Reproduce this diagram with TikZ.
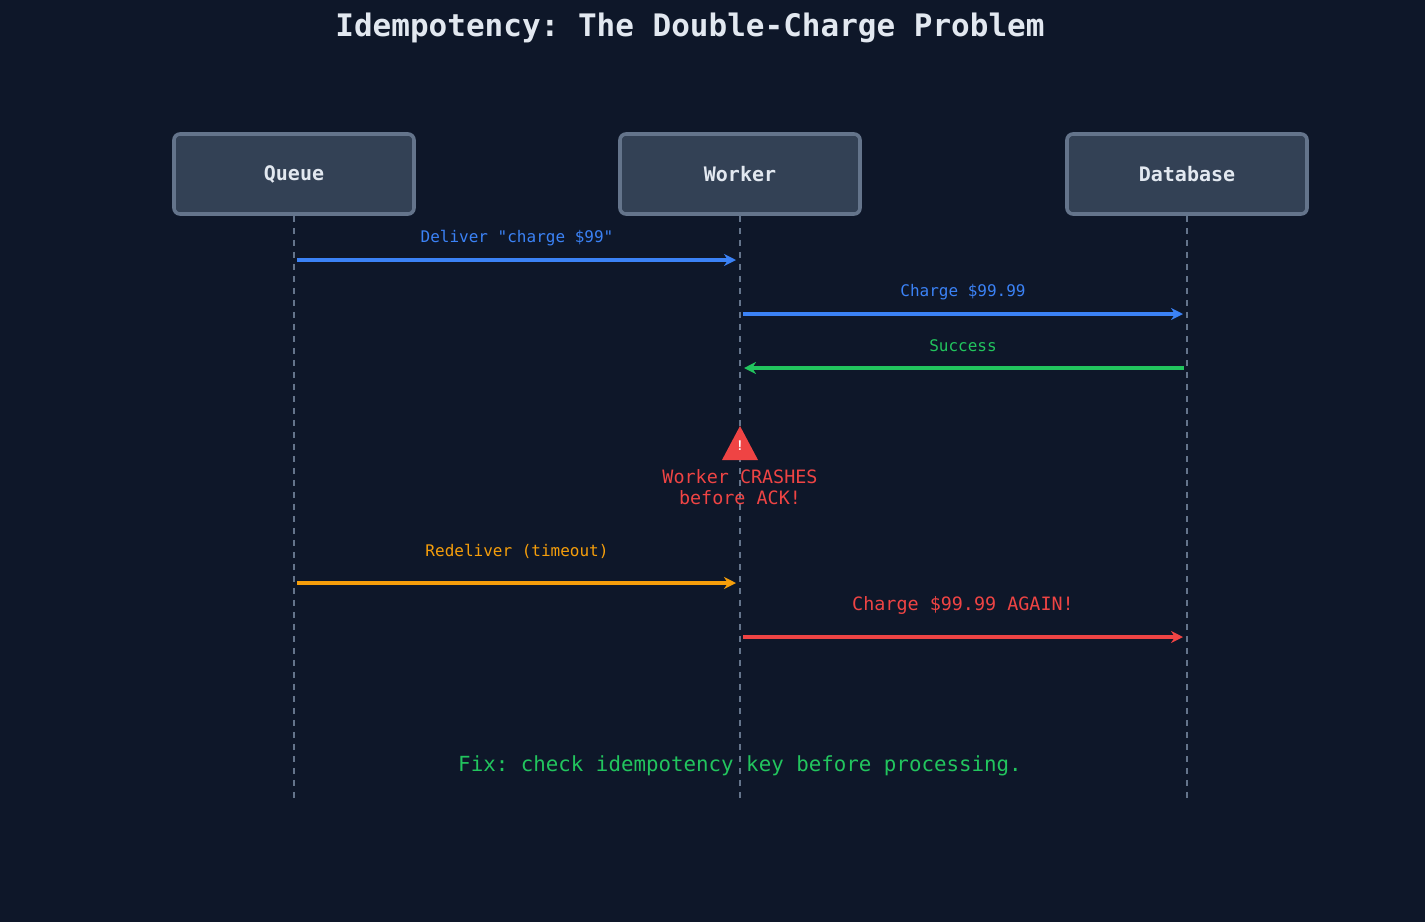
\documentclass[tikz,border=0pt]{standalone}
\usepackage{fontspec}
\setmonofont{DejaVu Sans Mono}
\usetikzlibrary{arrows.meta}
\definecolor{bg}{HTML}{0E1729}
\definecolor{boxfill}{HTML}{334155}
\definecolor{boxline}{HTML}{64748B}
\definecolor{txt}{HTML}{E2E8F0}
\definecolor{cblue}{HTML}{3B82F6}
\definecolor{cgreen}{HTML}{22C55E}
\definecolor{cred}{HTML}{EF4444}
\definecolor{corange}{HTML}{F59E0B}
\tikzset{
  actor/.style={draw=boxline, line width=1.8pt, fill=boxfill, rounded corners=3pt,
    minimum width=120pt, minimum height=40pt, text=txt, font=\ttfamily\bfseries\fontsize{10}{12}\selectfont},
  life/.style={boxline, dashed, line width=0.6pt},
  msg/.style={line width=1.7pt, -{Stealth[length=6pt,width=6pt]}},
  lbl/.style={font=\ttfamily\fontsize{8}{10}\selectfont}
}
\begin{document}
\begin{tikzpicture}[x=0.5pt,y=-0.5pt]
\fill[bg] (0,0) rectangle (1425,922);
\useasboundingbox (0,0) rectangle (1425,922);
\node[text=txt, font=\ttfamily\bfseries\fontsize{15.5}{18}\selectfont] (title) at (690,28) {Idempotency: The Double-Charge Problem};
% actors
\node[actor] (queue) at (294,174) {Queue};
\node[actor] (worker) at (740,174) {Worker};
\node[actor] (db) at (1187,174) {Database};
\coordinate (qend) at (294,798);
\coordinate (wend) at (740,798);
\coordinate (dend) at (1187,798);
\draw[life] (queue.south) -- (qend);
\draw[life] (worker.south) -- (wend);
\draw[life] (db.south) -- (dend);
% messages
\coordinate (q1) at (297,260); \coordinate (w1) at (736,260);
\draw[msg, cblue] (q1) -- (w1);
\node[lbl, text=cblue] (l1) at (517,238) {Deliver "charge \$99"};
\coordinate (w2) at (743,314); \coordinate (d2) at (1183,314);
\draw[msg, cblue] (w2) -- (d2);
\node[lbl, text=cblue] (l2) at (963,292) {Charge \$99.99};
\coordinate (d3) at (1184,368); \coordinate (w3) at (744,368);
\draw[msg, cgreen] (d3) -- (w3);
\node[lbl, text=cgreen] (l3) at (963,346) {Success};
% crash
\fill[cred] (740,426) -- (758,460) -- (722,460) -- cycle;
\node[text=white, font=\sffamily\bfseries\fontsize{7}{8}\selectfont] (bang) at (740,446) {!};
\node[text=cred, align=center, font=\ttfamily\fontsize{9.2}{10.5}\selectfont] (crash) at (740,487) {Worker CRASHES\\before ACK!};
\coordinate (q4) at (297,583); \coordinate (w4) at (736,583);
\draw[msg, corange] (q4) -- (w4);
\node[lbl, text=corange] (l4) at (517,551) {Redeliver (timeout)};
\coordinate (w5) at (743,637); \coordinate (d5) at (1183,637);
\draw[msg, cred, line width=2.2pt] (w5) -- (d5);
\node[text=cred, font=\ttfamily\fontsize{9.2}{11}\selectfont] (l5) at (963,605) {Charge \$99.99 AGAIN!};
\node[text=cgreen, font=\ttfamily\fontsize{10.4}{12}\selectfont] (fix) at (740,766) {Fix: check idempotency key before processing.};
\end{tikzpicture}
\end{document}
